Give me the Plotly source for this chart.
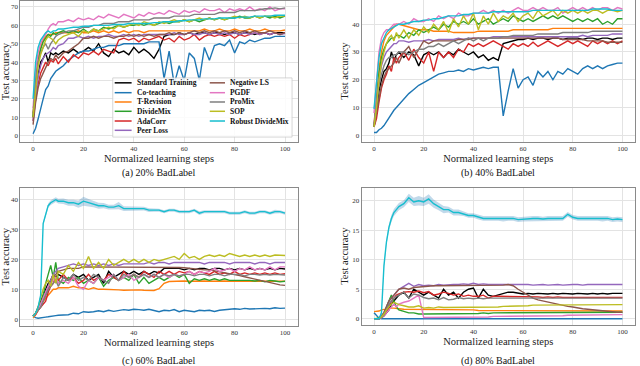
import plotly.graph_objects as go

# Normalized learning steps (x) shared by every panel
STEPS = [0, 1, 2, 3, 4, 5, 6, 7, 8, 9, 10,
         12, 14, 16, 18, 20, 22, 24, 26, 28, 30,
         32, 34, 36, 38, 40, 42, 44, 46, 48, 50,
         52, 54, 56, 58, 60, 62, 64, 66, 68, 70,
         72, 74, 76, 78, 80, 82, 84, 86, 88, 90,
         92, 94, 96, 98, 100]

METHODS = ['Standard Training', 'Co-teaching', 'T-Revision', 'DivideMix', 'AdaCorr',
           'Peer Loss', 'Negative LS', 'PGDF', 'ProMix', 'SOP', 'Robust DivideMix']

CAPTIONS = ['(a) 20% BadLabel', '(b) 40% BadLabel', '(c) 60% BadLabel', '(d) 80% BadLabel']

# ---- (a) 20% BadLabel ----
a_standard = [10, 25, 33, 40, 42, 45, 40, 45, 44, 45, 44,
              46, 45, 47, 45, 46, 48, 46, 50, 45, 43,
              47, 45, 46, 44, 48, 45, 47, 45, 42, 47,
              54, 55, 55, 56, 55, 56, 55, 56, 56, 55,
              56, 56, 55, 56, 56, 55, 56, 56, 55, 56,
              56, 55, 56, 56, 56]
a_coteach = [1, 4, 9, 15, 20, 25, 27, 31, 33, 35, 36,
             38, 41, 43, 45, 46, 46, 47, 48, 48, 49,
             49, 49, 50, 50, 50, 50, 50, 51, 51, 51,
             31, 46, 28, 38, 30, 45, 42, 30, 48, 41,
             49, 50, 49, 52, 45, 51, 50, 52, 51, 52,
             53, 53, 54, 54, 54]
a_trev = [12, 30, 42, 48, 52, 54, 55, 55, 55, 56, 56,
          56, 56, 56, 57, 56, 56, 57, 56, 57, 56,
          57, 56, 57, 56, 57, 57, 56, 57, 57, 57,
          57, 57, 57, 57, 57, 57, 57, 57, 58, 57,
          57, 58, 57, 57, 58, 57, 57, 58, 57, 57,
          58, 57, 57, 57, 57.5]
a_divide = [10, 28, 40, 47, 51, 53, 55, 54, 56, 55, 56,
            57, 56, 57, 56, 58, 56, 58, 57, 59, 58,
            59, 60, 59, 60, 60, 61, 60, 61, 60, 61,
            62, 61, 62, 62, 63, 62, 63, 62, 63, 64,
            63, 64, 63, 64, 64, 65, 64, 64, 65, 64,
            65, 64, 65, 64, 65]
a_adacorr = [8, 20, 28, 34, 37, 40, 38, 41, 40, 42, 39,
             43, 40, 44, 42, 45, 44, 46, 44, 47, 46,
             45, 52, 53, 52, 53, 51, 53, 52, 53, 54,
             52, 53, 51, 54, 52, 53, 55, 52, 54, 55,
             54, 55, 54, 55, 53, 55, 54, 55, 56, 55,
             56, 55, 56, 55, 56]
a_peer = [8, 22, 32, 38, 42, 44, 45, 46, 48, 47, 49,
          50, 53, 53, 54, 53, 54, 53, 54, 54, 55,
          54, 54, 55, 54, 55, 54, 55, 55, 55, 55,
          55, 55, 56, 55, 55, 56, 55, 55, 56, 55,
          56, 55, 56, 55, 56, 55, 56, 55, 56, 55,
          56, 55, 56, 55, 55.5]
a_negls = [6, 18, 26, 31, 34, 37, 40, 42, 41, 44, 42,
           45, 46, 48, 50, 53, 53, 54, 53, 54, 54,
           53, 54, 54, 55, 54, 55, 54, 55, 54, 55,
           55, 56, 55, 56, 55, 56, 57, 56, 57, 56,
           57, 56, 57, 56, 57, 56, 57, 56, 57, 56,
           56, 57, 56, 55, 56]
a_pgdf = [15, 35, 45, 50, 53, 55, 58, 60, 61, 60, 62,
          62, 63, 62, 64, 63, 64, 63, 65, 64, 66,
          65, 64, 66, 65, 64, 66, 65, 67, 66, 67,
          66, 68, 67, 66, 68, 67, 68, 67, 69, 68,
          68, 69, 67, 69, 68, 69, 68, 70, 68, 69,
          68, 70, 68, 69, 69]
a_promix = [12, 30, 40, 45, 48, 50, 47, 50, 52, 54, 55,
            56, 57, 57, 58, 59, 59, 60, 60, 61, 61,
            61, 62, 62, 62, 63, 63, 63, 63, 64, 64,
            64, 64, 65, 65, 65, 65, 66, 66, 66, 66,
            66, 67, 67, 67, 67, 68, 68, 68, 68, 68.5,
            69, 69, 69.5, 69, 69.5]
a_sop = [10, 26, 38, 44, 48, 52, 54, 53, 52, 50, 52,
         54, 55, 56, 54, 57, 56, 58, 57, 58, 59,
         58, 60, 59, 60, 61, 60, 62, 61, 60, 62,
         61, 62, 63, 62, 63, 62, 63, 64, 63, 64,
         63, 64, 63, 64, 65, 64, 65, 64, 65, 64,
         65, 65, 64, 65, 65]
a_robust = [20, 40, 48, 52, 54, 56, 57, 56, 57, 57, 58,
            58, 58.5, 59, 59, 59.5, 59.5, 60, 60, 60, 60,
            60.5, 60.5, 60.5, 61, 61, 61, 61, 61, 61.5, 61.5,
            62, 62, 62, 62.5, 62.5, 63, 63, 63, 63.5, 63.5,
            63.5, 64, 64, 64, 64, 64.5, 64.5, 64.5, 65, 65,
            65, 65, 65.5, 65.5, 65.5]

# ---- (b) 40% BadLabel ----
b_standard = [3, 10, 16, 20, 23, 24, 26, 30, 27, 29, 30,
              28, 30, 29, 25, 29, 30, 29, 30, 28, 30,
              29, 31, 30, 29, 30, 28, 29, 27, 28, 27,
              33, 33.5, 34, 34.5, 34.5, 35, 34.5, 35, 35, 34.5,
              35, 35, 34.5, 35, 35, 35, 34.5, 35, 35, 34.5,
              35, 35, 34.5, 35, 35]
b_coteach = [1, 1, 2, 2.5, 3.5, 5, 6, 8, 9, 10, 11,
             13, 15, 16.5, 18, 19, 20, 21, 22, 22.5, 23,
             23, 23.5, 23, 24, 23.5, 24, 24.5, 24, 24.5, 24.5,
             7, 16, 24, 17, 20, 21, 18, 23, 21, 23,
             20, 23, 22, 24, 23, 22, 24, 25, 24, 25,
             24, 25, 25.5, 26, 26]
b_trev = [4, 14, 24, 30, 34, 36, 37, 38, 39, 40, 40,
          39.5, 39, 38.5, 38, 38, 38, 37.5, 37.5, 37.5, 37.5,
          37, 37, 37, 37, 37, 37.5, 37.5, 37.5, 37.5, 37.5,
          37.5, 37.5, 38, 38, 38, 38, 38, 38, 38, 38,
          38.5, 38.5, 38.5, 38.5, 38.5, 38.5, 38.5, 38.5, 38.5, 38.5,
          38.5, 38.5, 38.5, 38.5, 38.5]
b_divide = [3, 12, 22, 28, 31, 33, 34, 35, 35, 36, 36,
            35, 37, 36, 38, 37, 38, 39, 38, 40, 39,
            41, 40, 41, 40, 42, 40, 41, 42, 40, 41,
            42, 41, 43, 42, 41, 42, 41, 42, 43, 42,
            43, 42, 43, 42, 41, 42, 41, 42, 41, 42,
            40, 41, 40, 42, 42]
b_adacorr = [3, 6, 12, 17, 20, 22, 25, 23, 28, 26, 28,
             30, 27, 31, 28, 26, 30, 23, 30, 28, 30,
             28, 31, 30, 33, 32, 33, 32, 33, 34, 33,
             32, 31, 33, 32, 33, 32, 33.5, 32, 33, 34,
             33, 32, 33, 34, 33, 34, 33, 32, 34, 33,
             34, 33, 34, 33, 34]
b_peer = [4, 12, 20, 25, 28, 30, 31, 32, 33, 33, 34,
          34, 33.5, 34, 34, 34, 34.5, 34, 34.5, 34.5, 34.5,
          34.5, 35, 34.5, 35, 35, 35, 35, 35, 35.5, 35.5,
          35.5, 35.5, 35.5, 35.5, 35.5, 35.5, 35.5, 35.5, 35.5, 35.5,
          35.5, 35.5, 35.5, 35.5, 35.5, 35.5, 36, 35.5, 36, 36,
          36, 36, 36.5, 36.5, 36.5]
b_negls = [3, 8, 14, 18, 21, 23, 24, 25, 26, 28, 26,
           30, 32, 28, 31, 34, 33, 34, 34, 34, 34,
           34, 34.5, 34.5, 34.5, 35, 35, 35, 35, 35, 35,
           35, 35, 35, 35, 35, 35, 35, 35, 35, 35,
           35, 35, 34.5, 34.5, 34.5, 34.5, 34.5, 34, 34, 34,
           34, 33.5, 33.5, 33.5, 33.5]
b_pgdf = [8, 20, 30, 35, 37, 38, 38, 39, 40, 40, 40,
          41, 40, 42, 41, 41, 42, 41, 43, 42, 43,
          42, 44, 43, 43, 44, 44, 45, 44, 45, 44,
          45, 44, 45, 46, 45, 45, 46, 45, 46, 45,
          45, 46, 44, 45, 46, 45, 46, 45, 46, 45,
          46, 46, 45, 46, 45.5]
b_promix = [3, 10, 18, 22, 25, 27, 28, 28, 29, 29, 30,
            30, 29, 30, 31, 31, 32, 32, 33, 32, 33,
            34, 33, 34, 35, 34, 35, 34, 35, 35, 35,
            35.5, 35.5, 36, 36, 36, 36, 36, 36.5, 36.5, 36.5,
            36.5, 36.5, 37, 37, 37, 37, 37, 37, 37.5, 37.5,
            37.5, 37.5, 37.5, 37.5, 37.5]
b_sop = [3, 10, 20, 26, 30, 33, 35, 36, 34, 37, 35,
         38, 35, 38, 36, 39, 37, 40, 38, 41, 37,
         42, 39, 43, 40, 44, 38, 43, 40, 44, 41,
         43, 42, 44, 41, 43, 44, 42, 45, 43, 44,
         45, 43, 45, 44, 45, 44, 45, 44, 45, 45,
         44, 45, 45, 44.5, 45]
b_robust = [9.5, 20, 28, 33, 35, 37, 38, 38.5, 39, 39.5, 40,
            40, 40.5, 41, 41, 41.5, 41.5, 42, 42, 42.5, 43,
            43, 43, 43.5, 43.5, 44, 44, 44, 44, 44.5, 44.5,
            44.5, 44.5, 44.5, 44.5, 44.5, 44.5, 45, 45, 45, 45,
            45, 45, 45, 45, 45, 45, 45, 45, 45.5, 45.5,
            45.5, 45.5, 45, 45, 45]

# ---- (c) 60% BadLabel ----
c_standard = [1, 2, 4, 6, 8, 10, 12, 13, 15, 14, 15,
              14, 13, 15, 14, 15, 13, 14, 15, 12, 16,
              14, 15, 16, 15, 16, 15, 16, 15, 16, 15.5,
              17, 17, 17, 17, 16.5, 17, 16.5, 17, 17, 16.5,
              17, 17, 16.5, 17, 16.5, 17, 16.5, 17, 16.5, 17,
              16.5, 17, 16.5, 17, 16.8]
c_coteach = [1, 0.5, 0.3, 0.5, 0.5, 0.7, 0.8, 1, 1, 1.2, 1.3,
             1.5, 1.5, 2, 1.8, 2.5, 2.3, 2.5, 2.8, 2.5, 3,
             2.6, 3, 3.2, 3, 3.3, 3.2, 3, 3.3, 3, 2.5,
             3, 2.8, 3.2, 2.5, 3, 2.8, 2.5, 3, 2.8, 3,
             2.6, 3, 3.2, 3.3, 3.5, 3.3, 3.6, 3.4, 3.5, 3.4,
             3.6, 3.5, 3.8, 3.6, 3.7]
c_trev = [0.5, 1.5, 3, 5, 6, 7, 8, 9, 10, 10, 10.5,
          10.5, 10.5, 11, 10.5, 10.5, 10, 10.5, 10, 10, 10,
          10, 9.8, 9.7, 9.8, 9.8, 9.8, 9.7, 9.6, 9.6, 10.2,
          12, 12.6, 12.7, 12.7, 12.8, 12.7, 12.8, 12.7, 12.8, 12.7,
          12.8, 12.7, 12.8, 12.7, 12.8, 12.7, 12.8, 12.7, 12.8, 12.7,
          12.7, 12.8, 12.7, 12.7, 12.7]
c_divide = [1, 2, 3, 5, 8, 12, 15, 18, 14, 19, 13,
            12, 14, 13, 14, 12, 13, 12, 14, 11, 13,
            14, 13, 14, 13, 15, 12, 14, 12, 13, 14,
            13, 14, 15, 14, 15, 12, 13.5, 13, 13.5, 13,
            13.5, 13, 13.5, 13, 13, 13.2, 13, 13, 12.8, 13,
            12.5, 13, 12.8, 12.5, 12.7]
c_adacorr = [1, 1.5, 3, 4, 5, 6, 9, 11, 12, 14, 13,
             15, 13, 14, 12, 13, 15, 13, 14, 13, 15,
             14, 13, 16, 14, 15, 14, 16, 15, 14, 16,
             15, 16, 15, 16, 15.5, 16, 15, 16, 15.5, 15,
             16, 15, 15.5, 15, 16, 15, 15.5, 15, 15.5, 15,
             15.5, 15, 15.5, 15, 15.2]
c_peer = [1, 2, 3, 5, 7, 9, 11, 13, 15, 16, 17,
          17.5, 18, 18.5, 18, 18.5, 18, 18.5, 18, 18.5, 18,
          18.5, 18, 18.5, 18.5, 18.5, 18.5, 18.5, 19, 18.5, 19,
          19, 18.5, 19, 19, 19, 19, 19, 19, 18.5, 19,
          19, 19, 19, 18.5, 19, 19, 19, 19, 18.5, 19,
          19, 18.5, 19, 19, 19]
c_negls = [1, 2, 3, 4, 6, 8, 10, 12, 14, 15, 16,
           16.5, 17, 17, 17, 17.5, 17.5, 17.5, 17.5, 17.5, 17.5,
           17.5, 17.5, 17.5, 17.5, 17.5, 17.5, 17.5, 17.5, 17.5, 17.5,
           17.5, 17.5, 17.5, 17.3, 17.2, 17, 16.8, 16.6, 16.5, 16.5,
           16.2, 16, 15.6, 15.3, 15, 14.6, 14.2, 13.8, 13.4, 13,
           12.6, 12.2, 11.8, 11.5, 11.3]
c_pgdf = [1, 2, 3, 5, 7, 9, 11, 12, 13, 14, 12,
          13, 12, 14, 11, 10, 13, 12, 14, 13, 14,
          15, 13, 14, 15, 13, 14, 15, 14, 15, 14,
          15, 14, 15, 14.5, 15, 16, 15, 16, 15.5, 16,
          17, 16, 16.5, 17, 16, 17, 16.5, 17.5, 16.5, 17,
          16.5, 17.5, 16.5, 17.5, 17.5]
c_promix = [1, 2, 3, 4, 6, 8, 10, 11, 12, 13, 11,
            14, 13, 15, 13, 14, 13, 15, 14, 13, 12,
            15, 13, 15, 14, 15, 14, 15, 14, 15, 14,
            15, 14.5, 15, 14.5, 15, 15, 14.5, 15, 15, 14.5,
            15, 15, 14.5, 15, 15, 15, 14.5, 15, 15, 14.8,
            15, 14.8, 15, 14.8, 14.8]
c_sop = [1, 2, 4, 7, 10, 12, 13, 11, 15, 12, 16,
         15, 18, 16, 19, 17, 21, 17, 19, 17, 20,
         18, 19, 20, 19, 20, 19, 20, 19, 20, 19.5,
         20, 20.5, 21, 20, 22, 20.5, 21, 20, 21, 21.5,
         21, 21.5, 21, 22, 21.5, 21, 21.5, 21, 21.5, 21,
         21.5, 21, 21.5, 21.5, 21.3]
c_robust = [1, 2, 4, 8, 32, 35, 38, 39, 39.5, 40, 39.5,
            39.5, 39, 39, 38.5, 39.5, 39, 38.5, 38, 38, 37.5,
            37.5, 38, 37, 37, 37, 37, 37, 36.5, 36.5, 36.5,
            36, 36.5, 36.5, 36, 36, 36, 36.5, 35.5, 36, 36,
            36, 36, 36, 35.5, 35.5, 35.5, 36, 35.5, 35.5, 36,
            36, 35.5, 36, 36, 35.5]
c_robust_std = [0.2, 0.3, 0.5, 0.5, 0.6, 0.6, 0.7, 0.8, 0.8, 0.8, 0.8,
                0.9, 1.0, 1.0, 1.2, 1.5, 1.2, 1.0, 1.0, 0.9, 0.8,
                0.8, 1.2, 0.8, 0.7, 0.7, 0.6, 0.6, 0.6, 0.5, 0.5,
                0.5, 0.5, 0.5, 0.5, 0.5, 0.5, 0.5, 0.6, 0.5, 0.5,
                0.5, 0.5, 0.5, 0.5, 0.5, 0.5, 0.5, 0.5, 0.5, 0.5,
                0.5, 0.5, 0.6, 0.5, 0.5]

# ---- (d) 80% BadLabel ----
d_standard = [0, 0, 0, 0.2, 0.5, 1, 1.5, 2.5, 3, 3.5, 4,
              4.5, 3.5, 5, 4.5, 4, 4.5, 4, 3.5, 5, 4,
              4.5, 3.5, 4.5, 5, 5.2, 3.5, 5, 4, 3.8, 4,
              4.3, 4.5, 4.5, 4.3, 4.2, 4.3, 4.2, 4.3, 4.2, 4.2,
              4.3, 4.2, 4.3, 4.2, 4.2, 4.3, 4.2, 4.2, 4.3, 4.2,
              4.3, 4.2, 4.3, 4.3, 4.3]
d_coteach = [1, 0.5, 0.1, 0, 0, 0, 0, 0, 0, 0, 0,
             0, 0, 0, 0, 0, 0, 0, 0, 0, 0,
             0, 0, 0, 0, 0, 0, 0, 0, 0, 0,
             0, 0, 0, 0, 0, 0, 0, 0, 0, 0,
             0, 0, 0, 0, 0, 0, 0, 0, 0, 0,
             0, 0, 0, 0, 0]
d_trev = [1.2, 1.2, 1.3, 1.5, 1.6, 1.7, 1.8, 1.8, 1.8, 1.7, 1.7,
          1.6, 1.6, 1.6, 1.5, 1.5, 1.5, 1.5, 1.5, 1.5, 1.5,
          1.5, 1.5, 1.5, 1.5, 1.5, 1.4, 1.4, 1.4, 1.4, 1.4,
          1.4, 1.4, 1.4, 1.4, 1.4, 1.4, 1.4, 1.4, 1.4, 1.3,
          1.3, 1.3, 1.3, 1.3, 1.3, 1.3, 1.3, 1.3, 1.3, 1.3,
          1.3, 1.3, 1.3, 1.3, 1.3]
d_divide = [0, 0, 0.2, 0.5, 1, 2, 3, 4, 3, 2, 1.5,
            1.2, 1, 1, 0.8, 0.8, 0.8, 0.9, 0.8, 0.9, 0.9,
            0.9, 0.9, 0.9, 0.9, 0.9, 0.9, 1, 0.9, 1, 1,
            1, 1, 1, 1, 1, 1, 1, 1, 1, 1,
            1, 1.1, 1, 1.1, 1.1, 1.1, 1.1, 1.1, 1.1, 1.1,
            1.1, 1.1, 1.1, 1.1, 1.1]
d_adacorr = [0, 0, 0, 0.2, 0.5, 1, 2, 3, 3.5, 4, 4.2,
             4.5, 4.6, 4.5, 4.7, 4.4, 4.6, 4, 4.2, 4.5, 4.3,
             4, 4.2, 3.8, 4, 3.8, 3.8, 4, 3.5, 3.8, 3.8,
             3.8, 3.7, 3.8, 3.7, 3.7, 3.7, 3.7, 3.7, 3.6, 3.7,
             3.6, 3.7, 3.6, 3.6, 3.6, 3.6, 3.6, 3.6, 3.6, 3.6,
             3.6, 3.6, 3.6, 3.6, 3.6]
d_peer = [0, 0, 0, 0.5, 1, 2, 3, 3.5, 4, 4.5, 5,
          5.5, 6, 5.5, 5.8, 5.6, 5.7, 5.6, 5.8, 5.7, 5.8,
          5.8, 5.8, 5.9, 5.8, 6, 5.8, 5.9, 5.8, 5.8, 5.9,
          5.8, 5.9, 5.9, 5.8, 5.8, 5.8, 5.7, 5.8, 5.8, 5.7,
          5.8, 5.8, 5.7, 5.8, 5.8, 5.8, 5.7, 5.8, 5.8, 5.7,
          5.8, 5.7, 5.8, 5.8, 5.8]
d_negls = [0, 0, 0, 0.3, 1, 2, 3, 3.5, 4, 4.5, 5,
           5.2, 5, 5.3, 5.4, 5.5, 5.6, 5.6, 5.6, 5.6, 5.6,
           5.6, 5.6, 5.6, 5.6, 5.6, 5.6, 5.7, 5.7, 5.7, 5.7,
           5.7, 5.8, 5.6, 5, 4.5, 4, 3.5, 3.2, 3, 2.8,
           2.6, 2.4, 2.2, 2.1, 2, 1.8, 1.7, 1.6, 1.5, 1.4,
           1.3, 1.2, 1.2, 1.1, 1.1]
d_pgdf = [0, 0, 0, 0.2, 0.5, 1, 1.5, 2, 2.5, 2, 2.5,
          2.8, 3, 3.5, 4, 0.2, 0.2, 0.2, 0.2, 0.2, 0.3,
          0.3, 0.3, 0.3, 0.3, 0.3, 0.3, 0.3, 0.3, 0.4, 0.4,
          0.4, 0.4, 0.4, 0.4, 0.4, 0.4, 0.5, 0.5, 0.5, 0.5,
          0.5, 0.5, 0.5, 0.6, 0.6, 0.6, 0.6, 0.6, 0.6, 0.6,
          0.7, 0.7, 0.7, 0.7, 0.7]
d_promix = [0, 0, 0, 0.2, 0.6, 1.5, 2.5, 3, 3.5, 3.8, 4,
            4.5, 3.5, 4.2, 4, 3.6, 3.4, 3.5, 3.2, 3.6, 3.2,
            3.3, 3.6, 3.4, 3.5, 3.4, 3.5, 3.4, 3.5, 3.5, 3.4,
            3.5, 3.4, 3.5, 3.5, 3.5, 3.5, 3.5, 3.4, 3.5, 3.5,
            3.5, 3.5, 3.5, 3.5, 3.5, 3.5, 3.5, 3.4, 3.5, 3.5,
            3.5, 3.5, 3.5, 3.5, 3.5]
d_sop = [0, 0, 0.1, 0.3, 0.8, 1.5, 2, 2.5, 2.8, 2.6, 2.4,
         2.2, 2, 2, 2.2, 1.8, 1.9, 1.8, 2, 1.9, 1.9,
         2, 1.9, 2, 2, 2, 2, 2, 2, 2, 2,
         2.1, 2.1, 2.2, 2.2, 2.2, 2.2, 2.3, 2.3, 2.3, 2.3,
         2.3, 2.4, 2.4, 2.4, 2.4, 2.4, 2.4, 2.4, 2.4, 2.4,
         2.4, 2.4, 2.4, 2.4, 2.4]
d_robust = [0, 0, 0, 1, 9, 13, 15.5, 17, 18, 18.5, 19,
            19.5, 20.5, 19.8, 20, 19.8, 20.3, 19.5, 19, 18.5, 18.5,
            18, 18, 17.8, 17.5, 17.5, 17.2, 17, 17, 17, 17,
            16.9, 17, 17, 16.8, 16.9, 17, 17, 17, 16.9, 17,
            17, 17, 17, 17.7, 17.2, 17, 17, 17, 17, 17,
            16.9, 17, 16.8, 16.9, 16.8]
d_robust_std = [0.1, 0.1, 0.1, 0.3, 0.5, 0.5, 0.5, 0.6, 0.6, 0.6, 0.6,
                0.6, 0.7, 0.7, 0.8, 0.7, 0.8, 0.7, 0.6, 0.6, 0.5,
                0.5, 0.5, 0.4, 0.4, 0.4, 0.4, 0.4, 0.4, 0.4, 0.4,
                0.4, 0.4, 0.4, 0.4, 0.4, 0.4, 0.4, 0.4, 0.4, 0.4,
                0.4, 0.4, 0.4, 0.4, 0.4, 0.4, 0.4, 0.4, 0.4, 0.4,
                0.4, 0.4, 0.4, 0.4, 0.4]

COLORS = ['#000000', '#1f77b4', '#ff7f0e', '#2ca02c', '#d62728', '#9467bd',
          '#8c564b', '#e377c2', '#7f7f7f', '#bcbd22', '#17becf']

panel_a = [a_standard, a_coteach, a_trev, a_divide, a_adacorr, a_peer,
           a_negls, a_pgdf, a_promix, a_sop, a_robust]
panel_b = [b_standard, b_coteach, b_trev, b_divide, b_adacorr, b_peer,
           b_negls, b_pgdf, b_promix, b_sop, b_robust]
panel_c = [c_standard, c_coteach, c_trev, c_divide, c_adacorr, c_peer,
           c_negls, c_pgdf, c_promix, c_sop, c_robust]
panel_d = [d_standard, d_coteach, d_trev, d_divide, d_adacorr, d_peer,
           d_negls, d_pgdf, d_promix, d_sop, d_robust]

SERIF = '"Liberation Serif", "DejaVu Serif", serif'

panels = [
    # data, band std, axis suffix, x domain, y domain, y range, y ticks
    (panel_a, None, '', [0.032, 0.465], [0.612, 0.997], [-3.5, 73.2], [0, 10, 20, 30, 40, 50, 60, 70]),
    (panel_b, None, '2', [0.565, 0.992], [0.613, 0.999], [-2.3, 48.6], [0, 10, 20, 30, 40]),
    (panel_c, c_robust_std, '3', [0.032, 0.465], [0.110, 0.487], [-2.2, 44], [0, 10, 20, 30, 40]),
    (panel_d, d_robust_std, '4', [0.565, 0.992], [0.113, 0.487], [-1, 22.2], [0, 5, 10, 15, 20]),
]

fig = go.Figure()
layout = dict(
    width=640, height=366,
    margin=dict(l=0, r=0, t=0, b=0),
    paper_bgcolor='white', plot_bgcolor='white',
    showlegend=False,
    font=dict(family=SERIF, color='#222'),
)
annotations = []

for k, (series, std, sfx, xdom, ydom, yrng, yticks) in enumerate(panels):
    xa, ya = 'x' + sfx, 'y' + sfx
    if std is not None:
        robust = series[-1]
        upper = [v + s for v, s in zip(robust, std)]
        lower = [v - s for v, s in zip(robust, std)]
        fig.add_trace(go.Scatter(x=STEPS + STEPS[::-1], y=upper + lower[::-1],
                                 fill='toself', fillcolor='rgba(31,119,180,0.28)',
                                 line=dict(width=0), hoverinfo='skip',
                                 xaxis=xa, yaxis=ya))
    for name, color, vals in zip(METHODS, COLORS, series):
        fig.add_trace(go.Scatter(x=STEPS, y=vals, mode='lines', name=name,
                                 line=dict(color=color, width=1.4),
                                 xaxis=xa, yaxis=ya))

    axis_common = dict(showgrid=True, gridcolor='#e3e3e3', gridwidth=1,
                       zeroline=False, showline=True, linecolor='#8a8a8a',
                       linewidth=1, mirror=True, ticks='',
                       tickfont=dict(size=7, family=SERIF, color='#333'))
    layout['xaxis' + sfx] = dict(axis_common, domain=xdom, range=[-5, 105],
                                 tickvals=[0, 20, 40, 60, 80, 100], anchor=ya,
                                 title=dict(text='Normalized learning steps', standoff=1,
                                            font=dict(size=10.5, family=SERIF, color='#222')))
    layout['yaxis' + sfx] = dict(axis_common, domain=ydom, range=yrng,
                                 tickvals=yticks, anchor=xa,
                                 title=dict(text='Test accuracy', standoff=1,
                                            font=dict(size=10.5, family=SERIF, color='#222')))
    annotations.append(dict(text=CAPTIONS[k], xref='paper', yref='paper',
                            x=(xdom[0] + xdom[1]) / 2,
                            y=0.527 if k < 2 else 0.013,
                            xanchor='center', yanchor='middle', showarrow=False,
                            font=dict(size=10, family=SERIF, color='#111')))

# Legend drawn inside panel (a), two columns, matplotlib style
shapes = [dict(type='rect', xref='x domain', yref='y domain', x0=0.333, x1=0.98,
               y0=0.035, y1=0.455, fillcolor='rgba(255,255,255,0.85)',
               line=dict(color='#cccccc', width=0.8), layer='above')]
row_y = [0.420, 0.350, 0.284, 0.218, 0.149, 0.083]
for i, (name, color) in enumerate(zip(METHODS, COLORS)):
    col, row = (0, i) if i < 6 else (1, i - 6)
    lx0, lx1, tx = (0.340, 0.401, 0.413) if col == 0 else (0.683, 0.738, 0.748)
    shapes.append(dict(type='line', xref='x domain', yref='y domain',
                       x0=lx0, x1=lx1, y0=row_y[row], y1=row_y[row],
                       line=dict(color=color, width=1.5), layer='above'))
    annotations.append(dict(text='<b>%s</b>' % name, xref='x domain', yref='y domain',
                            x=tx, y=row_y[row], xanchor='left', yanchor='middle',
                            showarrow=False,
                            font=dict(size=7.5, family=SERIF, color='#111')))

layout['shapes'] = shapes
layout['annotations'] = annotations
fig.update_layout(**layout)

# drop the browser's default body margin so the 640x366 figure fills the window
fig.write_html("out.html", config={'displayModeBar': False},
               post_script="document.body.style.margin = '0px';")
